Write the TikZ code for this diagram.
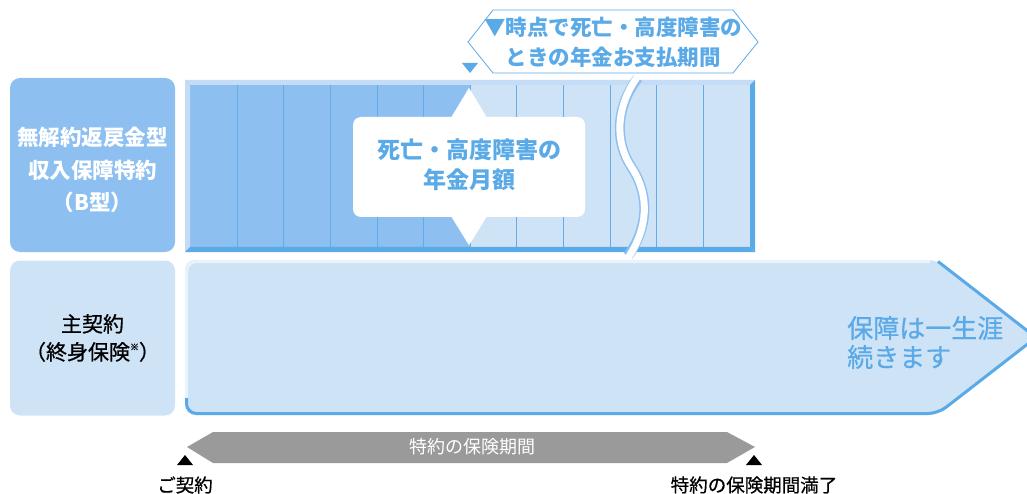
\documentclass[tikz,border=0pt]{standalone}
\usepackage{fontspec}
\usetikzlibrary{calc}
\setmainfont{Noto Sans CJK JP}
\newfontfamily\medf[FakeBold=0.7]{Noto Sans CJK JP}
\definecolor{bl}{HTML}{5AAAE8}
\definecolor{mid}{HTML}{8DC0F0}
\definecolor{lt}{HTML}{CFE3F7}
\definecolor{bev}{HTML}{C4DCF6}
\definecolor{gr}{HTML}{9A9A9A}
\tikzset{
  sidebox/.style={rounded corners=10pt, minimum width=165pt, inner sep=0pt},
  colline/.style={bl!85!mid, line width=0.9pt},
  bluetext/.style={text=bl, font=\fontsize{21.5}{30}\selectfont\bfseries, align=center, inner sep=0pt},
  lbl/.style={font=\medf\fontsize{18.5}{20}\selectfont, inner sep=0pt}
}
\begin{document}
\begin{tikzpicture}[x=1pt,y=-1pt]
\useasboundingbox (0,0) rectangle (1027,494);
\clip (0,0) rectangle (1027,494);
% left boxes
\node[sidebox, fill=mid, minimum height=174pt] (b1) at (92.5,165) {};
\node[text=white, font=\fontsize{21.5}{32.5}\selectfont\bfseries, align=center, inner sep=0pt] (b1t) at (92.5,170) {無解約返戻金型\\収入保障特約\\（B型）};
\node[sidebox, fill=lt, minimum height=155pt, font=\medf\fontsize{21}{28}\selectfont, align=center] (b2) at (92.5,338) {主契約\\（終身保険\raisebox{0.45em}{\fontsize{9}{9}\selectfont ※}）};
% main contract arrow
\fill[lt, rounded corners=10pt] (185,260) -- (938,260) -- (1037,337.5) -- (938,415) -- (185,415) -- cycle;
\draw[white!55!lt, line width=3pt, rounded corners=10pt] (186.5,400) -- (186.5,261.5) -- (930,261.5);
\draw[bl, line width=3pt, rounded corners=10pt] (186.5,398) -- (186.5,413.5) -- (938,413.5) -- (1036,337.5) -- (938,261.5);
\node[text=bl, font=\medf\fontsize{26}{29}\selectfont, align=left, anchor=west, inner sep=0pt] (life) at (847,342.5) {保障は一生涯\\続きます};
% rider bar
\fill[mid] (185,80) rectangle (470,252);
\fill[lt] (470,80) rectangle (755,252);
\foreach \x in {237,283,330,377,423,470,516,563,610,656,703}
  \draw[colline] (\x,85) -- (\x,247);
\fill[bev] (185,80) -- (755,80) -- (750,85) -- (190,85) -- cycle;
\fill[bev] (185,80) -- (190,85) -- (190,247) -- (185,252) -- cycle;
\fill[bl] (185,252) -- (190,247) -- (750,247) -- (755,252) -- cycle;
\fill[bl] (755,80) -- (750,85) -- (750,247) -- (755,252) -- cycle;
% wave break
\draw[mid, line width=10pt] (638,78) .. controls (616,106) and (614,142) .. (632,168) .. controls (650,196) and (648,228) .. (628,256);
\draw[white, line width=7pt] (638,76) .. controls (616,106) and (614,142) .. (632,168) .. controls (650,196) and (648,228) .. (628,258);
% callout
\node[fill=white, rounded corners=8pt, minimum width=232pt, minimum height=100pt, inner sep=0pt] (co) at (469,167) {};
\fill[white] ($(co.north)+(0,-29)$) -- ($(co.north)+(18,1)$) -- ($(co.north)+(-18,1)$) -- cycle;
\fill[white] ($(co.south)+(0,28)$) -- ($(co.south)+(18,-1)$) -- ($(co.south)+(-18,-1)$) -- cycle;
\node[bluetext, font=\fontsize{23}{30}\selectfont\bfseries] (cot) at (469,165) {死亡・高度障害の\\年金月額};
% marker and hexagon label
\fill[bl] (462,63) -- (478,63) -- (470,73) -- cycle;
\draw[bl, line width=0.8pt, fill=white] (468,42) -- (493,10) -- (733,10) -- (758,42) -- (733,73) -- (493,73) -- cycle;
\node[bluetext] (hx) at (613,42) {▼時点で死亡・高度障害の\\ときの年金お支払期間};
% rider period arrow
\fill[gr] (187,447) -- (213,432) -- (727,432) -- (755,447) -- (727,463) -- (213,463) -- cycle;
\node[lbl, text=white, font=\fontsize{18}{20}\selectfont] (per) at (472,447) {特約の保険期間};
% markers
\coordinate (m1) at (185,460);
\coordinate (m2) at (754,460);
\fill[black] ($(m1)+(0,-5)$) -- ($(m1)+(8,5)$) -- ($(m1)+(-8,5)$) -- cycle;
\fill[black] ($(m2)+(0,-5)$) -- ($(m2)+(8,5)$) -- ($(m2)+(-8,5)$) -- cycle;
\node[lbl] (l1) at (185,485) {ご契約};
\node[lbl] (l2) at (754,485) {特約の保険期間満了};
\end{tikzpicture}
\end{document}
